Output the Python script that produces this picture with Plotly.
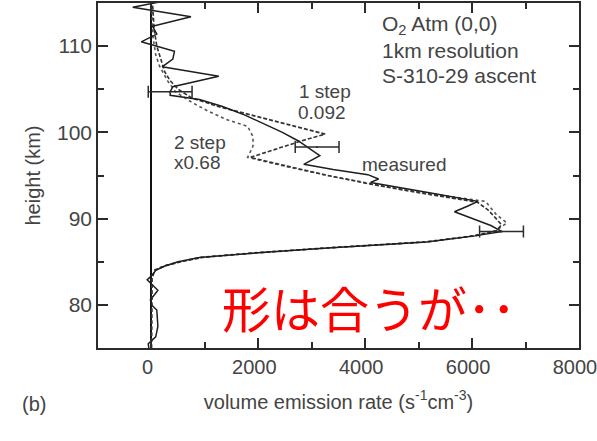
import plotly.graph_objects as go

# Measured O2 Atmospheric (0,0) band volume emission rate profile
measured_height = [75.0, 75.5, 76.3, 77.5, 78.5, 79.4, 80.0, 80.6, 81.2, 81.7, 82.3, 82.9,
                   83.5, 84.0, 84.5, 85.0, 85.5, 86.0, 86.6, 87.3, 88.0, 88.5, 89.2, 90.0,
                   90.8, 91.4, 92.0, 93.0, 94.2, 94.6, 95.1, 95.7, 96.3, 97.3, 98.3, 99.0,
                   100.0, 101.0, 102.0, 103.0, 103.8, 104.3, 104.7, 105.3, 106.5, 107.6,
                   108.5, 109.4, 110.5, 111.4, 112.3, 113.4, 114.5, 115.3]
measured_rate = [-50, -60, 80, 120, 110, 100, 0, -20, 60, 120, 20, -80,
                 20, 80, 250, 500, 900, 1900, 3300, 5150, 6050, 6560, 6350, 6000,
                 5670, 5900, 6110, 5200, 4100, 4250, 4050, 3400, 2850, 3150, 2900, 2750,
                 2450, 2100, 1750, 1330, 900, 350, 350, 400, 1260, 200,
                 400, 430, -190, 100, 20, 740, -350, 300]

# One-step retrieval model (scaled 0.092)
one_step_height = [75, 80, 83, 84, 84.5, 85, 85.5, 86, 86.6, 87.3, 88, 88.6, 89.3, 90, 91,
                   91.9, 93, 94, 95, 96, 97.1, 98, 99, 99.8, 101, 102, 103, 104, 105, 106,
                   107, 108, 109, 110, 112, 115]
one_step_rate = [0, 0, 10, 60, 250, 550, 950, 1900, 3300, 5150, 6050, 6450, 6550, 6450, 6300,
                 6100, 5000, 4100, 3300, 2600, 1850, 2300, 2800, 3250, 2500, 1900, 1250, 750,
                 500, 350, 250, 200, 150, 100, 50, 20]

# Two-step retrieval model (scaled x0.68)
two_step_height = [75, 80, 83, 84, 84.5, 85, 85.5, 86, 86.6, 87.3, 88, 88.6, 89.5, 90.5, 92,
                   93, 94, 95, 96, 97.1, 98.4, 99.5, 100.7, 101.5, 102.5, 103.5, 104.7, 106,
                   107.7, 109, 111, 115]
two_step_rate = [0, 0, 10, 50, 220, 520, 900, 1850, 3250, 5100, 6000, 6450, 6650, 6450, 6250,
                 5100, 4150, 3300, 2550, 1800, 1900, 1900, 1800, 1400, 1050, 750, 450, 300,
                 150, 80, 30, 0]

# Horizontal error bars on the measured profile
err_height = [104.7, 98.3, 88.5]
err_rate = [350, 3100, 6550]
err_size = [410, 410, 410]

x_ticks = [0, 2000, 4000, 6000, 8000]
x_minor = [1000, 3000, 5000, 7000]
y_ticks = [80, 90, 100, 110]
y_minor = [85, 95, 105]

INK = "#2b2b2b"
TEXT = "#444444"
FONT = "Liberation Sans, Arial, sans-serif"

fig = go.Figure()
fig.add_trace(go.Scatter(x=two_step_rate, y=two_step_height, mode="lines",
                         line=dict(color="#555555", width=1.6, dash="dot"), showlegend=False))
fig.add_trace(go.Scatter(x=one_step_rate, y=one_step_height, mode="lines",
                         line=dict(color="#333333", width=1.6, dash="4px,2px"), showlegend=False))
fig.add_trace(go.Scatter(x=measured_rate, y=measured_height, mode="lines",
                         line=dict(color="#1e1e1e", width=1.5), showlegend=False))
fig.add_trace(go.Scatter(x=err_rate, y=err_height, mode="markers",
                         marker=dict(size=2, color=INK),
                         error_x=dict(type="data", array=err_size, color=INK, thickness=1.5, width=6),
                         showlegend=False))

axis_common = dict(showline=True, linecolor=INK, linewidth=1.5, mirror="allticks",
                   ticks="inside", ticklen=10, tickwidth=1.5, tickcolor=INK, showgrid=False,
                   ticklabeloverflow="allow", automargin=False)

fig.update_xaxes(range=[-1000, 8000], tickvals=x_ticks, zeroline=True, zerolinecolor="#111111",
                 zerolinewidth=1.5, ticklabelshift=-4,
                 tickfont=dict(family=FONT, size=20, color=TEXT),
                 minor=dict(tickvals=x_minor, ticks="inside", ticklen=6, tickwidth=1.5, tickcolor=INK),
                 title=dict(text="volume emission rate (s<sup>-1</sup>cm<sup>-3</sup>)",
                            font=dict(family=FONT, size=20, color=TEXT), standoff=18),
                 **axis_common)
fig.update_yaxes(range=[75, 115], tickvals=y_ticks, zeroline=False,
                 tickfont=dict(family=FONT, size=21, color=TEXT),
                 minor=dict(tickvals=y_minor, ticks="inside", ticklen=6, tickwidth=1.5, tickcolor=INK),
                 title=dict(text="height (km)", font=dict(family=FONT, size=20, color=TEXT), standoff=11),
                 **axis_common)

notes = [
    ("O<sub>2</sub> Atm (0,0)", 380, 25, 21),
    ("1km resolution", 380, 50, 21),
    ("S-310-29 ascent", 380, 76, 21),
    ("1 step", 297, 91, 19),
    ("0.092", 296, 112, 19),
    ("2 step", 172, 142, 19),
    ("x0.68", 172, 162, 19),
    ("measured", 360, 165, 19),
    ("(b)", 20, 404, 20),
]
W, H = 597, 441
for text, px, py, size in notes:
    fig.add_annotation(text=text, xref="paper", yref="paper",
                       x=(px - 98) / (579 - 98), y=(348 - py) / (348 - 3),
                       xanchor="left", yanchor="middle", showarrow=False,
                       font=dict(family=FONT, size=size, color=TEXT))

fig.add_annotation(text="形は合うが･･", xref="paper", yref="paper",
                   x=(220 - 98) / (579 - 98), y=(348 - 306) / (348 - 3),
                   xanchor="left", yanchor="middle", showarrow=False,
                   font=dict(family="Noto Sans CJK JP", size=49, color="#ff0000"))

fig.update_layout(width=W, height=H, margin=dict(l=98, r=18, t=3, b=93),
                  paper_bgcolor="white", plot_bgcolor="white")

fig.write_html("out.html")
